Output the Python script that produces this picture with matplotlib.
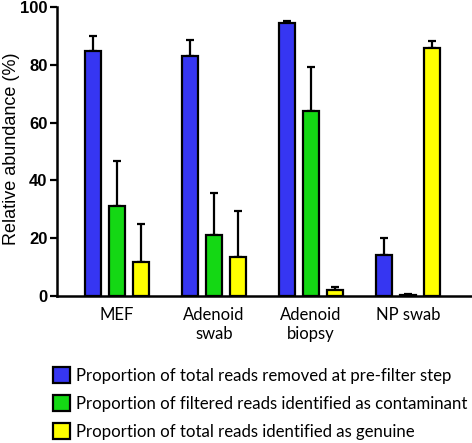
import numpy as np
import matplotlib.pyplot as plt
from matplotlib.patches import Patch

categories = ['MEF', 'Adenoid\nswab', 'Adenoid\nbiopsy', 'NP swab']
series_names = [
    'Proportion of total reads removed at pre-filter step',
    'Proportion of filtered reads identified as contaminant',
    'Proportion of total reads identified as genuine',
]
prefilter = [84.8, 83.0, 94.4, 14.2]
prefilter_err = [5.2, 5.7, 0.7, 5.8]
contaminant = [31.2, 21.0, 64.1, 0.3]
contaminant_err = [15.5, 14.6, 15.0, 0.3]
genuine = [11.7, 13.4, 1.9, 85.7]
genuine_err = [13.2, 16.1, 1.3, 2.7]
colors = ['#3636f2', '#14d814', '#ffff00']

fig = plt.figure(figsize=(4.72, 4.43), dpi=100)
ax = fig.add_axes([0.121, 0.332, 0.879, 0.652])

x = np.arange(len(categories))
offset = 0.247
width = 0.165
all_vals = [prefilter, contaminant, genuine]
all_errs = [prefilter_err, contaminant_err, genuine_err]
for i, (vals, errs) in enumerate(zip(all_vals, all_errs)):
    pos = x + (i - 1) * offset
    ax.bar(pos, vals, width, color=colors[i], edgecolor='black',
           linewidth=1.6, zorder=2)
    ax.errorbar(pos, vals, yerr=[np.zeros(len(vals)), errs], fmt='none',
                ecolor='black', elinewidth=1.6, capsize=3.2, capthick=1.6,
                zorder=1)

ax.set_xlim(-0.619, 3.66)
ax.set_ylim(0, 100)
ax.set_yticks([0, 20, 40, 60, 80, 100])
ax.set_yticklabels(['0', '20', '40', '60', '80', '100'],
                   fontsize=12, fontweight='bold', family='Liberation Sans')
ax.set_xticks(x)
ax.set_xticklabels(categories, fontsize=12, family='Lato', linespacing=1.2)
ax.tick_params(axis='x', length=0, pad=8)
ax.tick_params(axis='y', length=5, width=1.6, direction='out', pad=2)

# y label placed in figure coords so it stays inside the canvas
fig.text(12 / 472, 0.665, 'Relative abundance (%)', rotation=90,
         ha='center', va='center', fontsize=13, family='Liberation Sans')

for side in ['top', 'right']:
    ax.spines[side].set_visible(False)
for side in ['left', 'bottom']:
    ax.spines[side].set_linewidth(1.8)

handles = [Patch(facecolor=c, edgecolor='black', linewidth=1.6) for c in colors]
fig.legend(handles, series_names, loc='upper left',
           bbox_to_anchor=(0.112, 0.172), frameon=False,
           prop={'family': 'Lato', 'size': 12.1}, handlelength=1.0,
           handleheight=1.1, handletextpad=0.35, labelspacing=0.68,
           borderaxespad=0, borderpad=0)

fig.savefig('out.png', dpi=100)
